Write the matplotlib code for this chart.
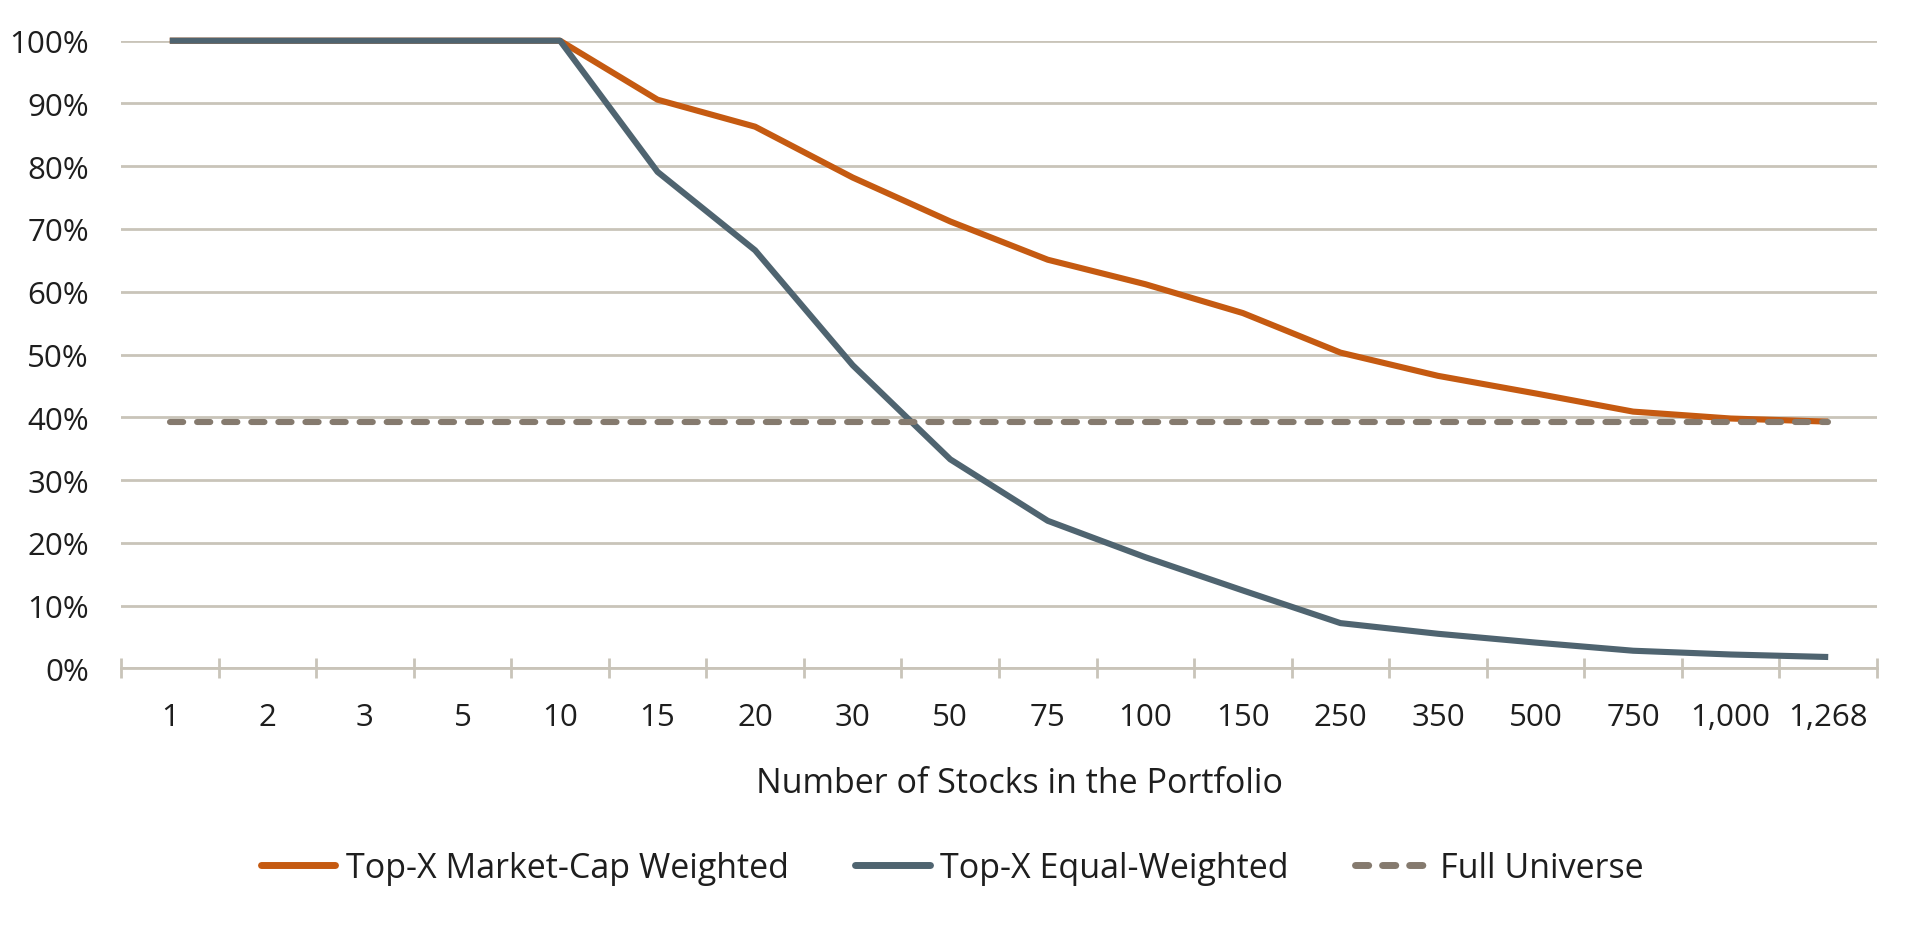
import matplotlib
matplotlib.use("Agg")
import matplotlib.pyplot as plt
from matplotlib.ticker import FixedLocator, PercentFormatter

plt.rcParams["font.family"] = ["Open Sans", "DejaVu Sans"]
plt.rcParams["font.weight"] = "normal"
plt.rcParams["lines.scale_dashes"] = False

# data
stocks = ["1", "2", "3", "5", "10", "15", "20", "30", "50", "75", "100",
          "150", "250", "350", "500", "750", "1,000", "1,268"]
market_cap = [100, 100, 100, 100, 100, 90.6, 86.3, 78.2, 71.2, 65.1, 61.2,
              56.6, 50.3, 46.6, 43.8, 40.9, 39.8, 39.3]
equal_weight = [100, 100, 100, 100, 100, 79.1, 66.6, 48.3, 33.3, 23.5, 17.7,
                12.4, 7.2, 5.5, 4.1, 2.8, 2.2, 1.8]
full_universe = [39.2] * len(stocks)

ORANGE = "#c55a11"
SLATE = "#4f6470"
TAUPE = "#857a6e"
GRID = "#c9c4b9"
TEXT = "#1e1e1e"
FS = 22.5
FS_TEXT = 24.5

fig = plt.figure(figsize=(19.2, 9.28), dpi=100)
ax = fig.add_axes([121 / 1920, 1 - 669.3 / 928, (1877 - 121) / 1920, (669.3 - 41.7) / 928])

x = range(len(stocks))
ax.plot(x, [v / 100 for v in market_cap], color=ORANGE, lw=4.4, solid_capstyle="butt",
        label="Top-X Market-Cap Weighted", clip_on=False, zorder=3)
ax.plot(x, [v / 100 for v in equal_weight], color=SLATE, lw=4.4, solid_capstyle="butt",
        label="Top-X Equal-Weighted", clip_on=False, zorder=4)
ax.plot(x, [v / 100 for v in full_universe], color=TAUPE, lw=4.4,
        linestyle=(0, (9.5, 10)), dash_capstyle="round",
        label="Full Universe", clip_on=False, zorder=5)

ax.set_xlim(-0.5, len(stocks) - 0.5)
ax.set_ylim(0, 1)
ax.set_yticks([i / 10 for i in range(11)])
ax.yaxis.set_major_formatter(PercentFormatter(1.0, decimals=0))
ax.grid(axis="y", color=GRID, lw=2.0)
ax.set_axisbelow(True)

ax.set_xticks(list(x))
ax.set_xticklabels(stocks)
ax.xaxis.set_minor_locator(FixedLocator([i - 0.5 for i in range(len(stocks) + 1)]))
ax.tick_params(axis="x", which="major", length=0, pad=24, labelsize=FS, labelcolor=TEXT)
ax.tick_params(axis="x", which="minor", length=15, width=2.0, color=GRID, direction="inout")
ax.tick_params(axis="y", length=0, pad=23, labelsize=FS, labelcolor=TEXT)

for side in ["top", "right", "left"]:
    ax.spines[side].set_visible(False)
ax.spines["bottom"].set_color(GRID)
ax.spines["bottom"].set_linewidth(2.0)
ax.spines["bottom"].set_zorder(2)

fig.text(1020 / 1920, 1 - 784 / 928, "Number of Stocks in the Portfolio",
         ha="center", va="center", fontsize=FS_TEXT, color=TEXT)

legend = fig.legend(loc="center", bbox_to_anchor=(952 / 1920, 1 - 869 / 928), ncol=3,
                    frameon=False, fontsize=FS_TEXT, handlelength=2.2, handletextpad=0.3,
                    columnspacing=1.95, labelcolor=TEXT)
for handle in legend.get_lines():
    handle.set_linewidth(5)
    handle.set_solid_capstyle("round")

fig.savefig("out.png", dpi=100)
